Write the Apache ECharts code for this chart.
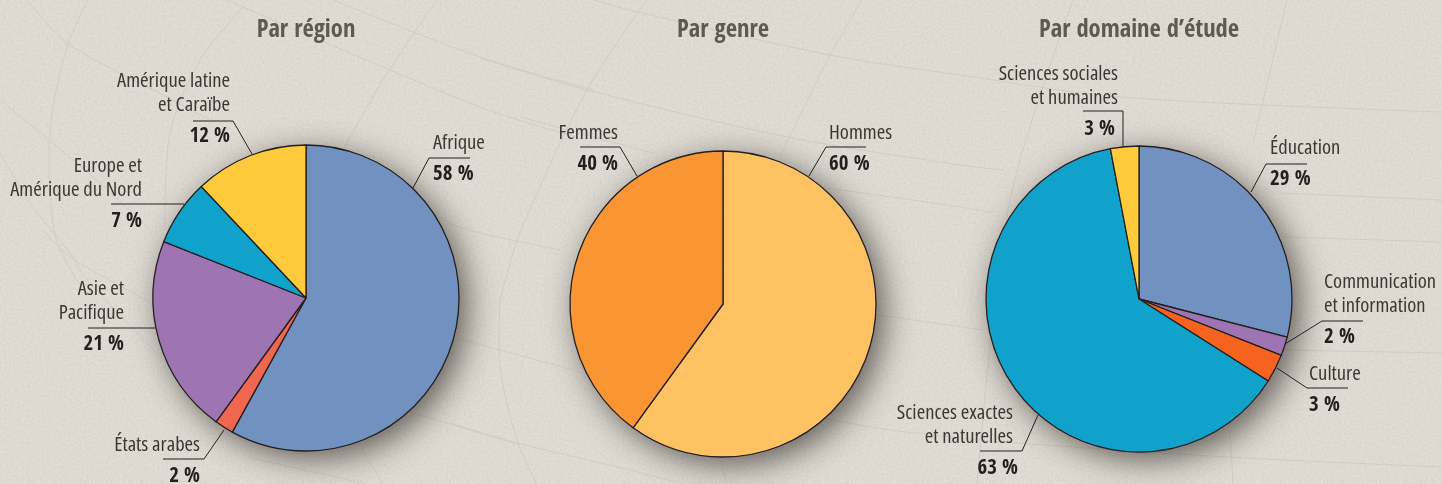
<!DOCTYPE html>
<html>
<head>
<meta charset="utf-8">
<style>
html,body{margin:0;padding:0;background-color:#e1ddd6;overflow:hidden}
#paper{position:absolute;left:0;top:0;width:1442px;height:484px;
background-image:url("data:image/svg+xml,%3Csvg xmlns='http://www.w3.org/2000/svg' width='1442' height='484'%3E%3Cfilter id='n'%3E%3CfeTurbulence type='fractalNoise' baseFrequency='0.45' numOctaves='2' seed='4'/%3E%3CfeColorMatrix values='0 0 0 0 0.5 0 0 0 0 0.47 0 0 0 0 0.4 0.5 0 0 0 -0.17'/%3E%3C/filter%3E%3Crect width='1442' height='484' filter='url(%23n)'/%3E%3C/svg%3E")}
#main{position:absolute;left:0;top:0;width:1442px;height:484px}
</style>
</head>
<body>
<div id="paper"></div>
<div id="main"></div>
<script src="https://cdn.jsdelivr.net/npm/echarts@6/dist/echarts.min.js"></script>
<script>
var titles = ['Par région', 'Par genre', 'Par domaine d’étude'];

var regionNames = ['Afrique', 'États arabes', 'Asie et\nPacifique', 'Europe et\nAmérique du Nord', 'Amérique latine\net Caraïbe'];
var regionValues = [58, 2, 21, 7, 12];
var regionColors = ['#7192c1', '#f1664f', '#9f74b3', '#10a2cb', '#ffcb3c'];

var genreNames = ['Hommes', 'Femmes'];
var genreValues = [60, 40];
var genreColors = ['#fec263', '#f99533'];

var fieldNames = ['Éducation', 'Communication\net information', 'Culture', 'Sciences exactes\net naturelles', 'Sciences sociales\net humaines'];
var fieldValues = [29, 2, 3, 63, 3];
var fieldColors = ['#7192c1', '#9f74b3', '#f5631f', '#10a2cb', '#ffcb3c'];

// label box and leader line for each slice
var regionLabels = [
    {x: 433, y: 131, align: 'left', labelLinePoints: [[413, 188], [429, 158], [470, 158]]},
    {x: 200, y: 433, align: 'right', labelLinePoints: [[224, 430], [204, 459], [163, 459]]},
    {x: 124, y: 277, align: 'right', labelLinePoints: [[155, 328], [122, 328], [88, 328]]},
    {x: 142, y: 154, align: 'right', labelLinePoints: [[184, 204], [150, 204], [111, 204]]},
    {x: 230, y: 69, align: 'right', labelLinePoints: [[252, 154], [233, 121], [193, 121]]}
];
var genreLabels = [
    {x: 829, y: 121, align: 'left', labelLinePoints: [[809, 176], [826, 147], [866, 147]]},
    {x: 618, y: 121, align: 'right', labelLinePoints: [[637, 176], [620, 147], [580, 147]]}
];
var fieldLabels = [
    {x: 1270, y: 136, align: 'left', labelLinePoints: [[1251, 192], [1266, 164], [1307, 164]]},
    {x: 1324, y: 270, align: 'left', labelLinePoints: [[1285, 344], [1322, 321], [1363, 321]]},
    {x: 1309, y: 362, align: 'left', labelLinePoints: [[1277, 368], [1307, 388], [1348, 388]]},
    {x: 1018, y: 401, align: 'right', nameTag: 'n5', labelLinePoints: [[1038, 415], [1022, 451], [980, 451]]},
    {x: 1118, y: 62, align: 'right', pctTag: 'p3', labelLinePoints: [[1123, 146], [1123, 111], [1083, 111]]}
];

var NAME_FONT = {fontStyle: 'condensed', fontFamily: '"Open Sans"', fontSize: 20.6, lineHeight: 24, color: '#3b3733'};
var PCT_FONT = {fontFamily: '"Open Sans Condensed"', fontWeight: 'bold', fontSize: 21, lineHeight: 40, color: '#231f20'};

function backing(center) {
    return {
        type: 'pie', center: center, radius: 153, silent: true, z: 1,
        label: {show: false}, labelLine: {show: false},
        itemStyle: {color: '#777', shadowBlur: 32, shadowOffsetX: 8, shadowOffsetY: 8, shadowColor: 'rgba(20,15,10,0.62)'},
        data: [{value: 1, name: ''}]
    };
}

function slices(center, names, values, colors, labels) {
    return {
        type: 'pie', center: center, radius: 153, z: 2,
        startAngle: 90, clockwise: true, avoidLabelOverlap: false,
        itemStyle: {borderColor: '#231f20', borderWidth: 1.3},
        labelLine: {show: true, lineStyle: {color: '#231f20', width: 1}},
        label: {
            show: true, position: 'outside',
            formatter: function (p) {
                var l = labels[p.dataIndex];
                return '{' + (l.nameTag || 'n') + '|' + p.name + '}\n{' + (l.pctTag || 'p') + '|' + p.value + ' %}';
            },
            rich: {
                n: NAME_FONT,
                p: PCT_FONT,
                n5: Object.assign({padding: [0, 5, 0, 0]}, NAME_FONT),
                p3: Object.assign({padding: [0, 3, 0, 0]}, PCT_FONT)
            }
        },
        labelLayout: function (p) {
            var l = labels[p.dataIndex];
            return {x: l.x, y: l.y, align: l.align, verticalAlign: 'top', labelLinePoints: l.labelLinePoints};
        },
        color: colors,
        data: names.map(function (n, i) { return {name: n, value: values[i]}; })
    };
}

function mapLine(points) {
    return {type: 'polyline', silent: true, z: -10, shape: {points: points, smooth: 0.3},
        style: {stroke: '#d0ccc5', lineWidth: 1, fill: null}};
}

var chart = echarts.init(document.getElementById('main'));
chart.setOption({
    animation: false,
    backgroundColor: 'transparent',
    title: titles.map(function (t, i) {
        return {text: t, left: [301, 718, 1134][i], top: 13, textAlign: 'center',
            textStyle: {fontFamily: '"Open Sans Condensed"', fontSize: 24.5, fontWeight: 'bold', color: '#5e5a52'}};
    }),
    // faint map graticule behind the pies
    graphic: {elements: [
        mapLine([[88, 0], [67, 47], [50, 133], [55, 235], [80, 285]]),
        mapLine([[27, 0], [67, 43], [167, 97], [210, 120]]),
        mapLine([[243, 7], [200, 60], [170, 133], [165, 227]]),
        mapLine([[0, 153], [33, 207], [70, 253], [87, 280], [157, 353]]),
        mapLine([[0, 100], [100, 183], [150, 230]]),
        mapLine([[43, 230], [70, 257], [150, 302]]),
        mapLine([[333, 0], [480, 57], [593, 90]]),
        mapLine([[227, 0], [480, 107], [587, 140]]),
        mapLine([[437, 0], [383, 80], [343, 150]]),
        mapLine([[447, 223], [480, 233], [560, 250]]),
        mapLine([[457, 338], [500, 350], [573, 370]]),
        mapLine([[403, 410], [480, 433], [520, 445]]),
        mapLine([[247, 457], [367, 484]]),
        mapLine([[362, 450], [383, 484]]),
        mapLine([[500, 300], [500, 367], [517, 440], [537, 484]]),
        mapLine([[450, 423], [517, 443], [630, 470], [683, 484]]),
        mapLine([[593, 0], [637, 12], [830, 55], [960, 75], [1120, 97], [1442, 112]]),
        mapLine([[480, 58], [587, 90], [787, 137], [960, 165], [1003, 170]]),
        mapLine([[520, 117], [653, 153]]),
        mapLine([[647, 0], [587, 90], [520, 233], [500, 300]]),
        mapLine([[862, 0], [830, 55], [780, 157]]),
        mapLine([[820, 187], [960, 207], [993, 213]]),
        mapLine([[863, 313], [963, 327], [983, 330]]),
        mapLine([[817, 417], [877, 428], [960, 438], [1017, 443], [1227, 457], [1442, 467]]),
        mapLine([[720, 460], [727, 484]]),
        mapLine([[1073, 0], [1010, 200], [977, 484]]),
        mapLine([[1287, 0], [1253, 143]]),
        mapLine([[1280, 193], [1442, 200]]),
        mapLine([[1283, 237], [1442, 242]]),
        mapLine([[1283, 350], [1442, 353]]),
        mapLine([[1230, 430], [1233, 484]])
    ]},
    series: [
        backing([306, 298]), slices([306, 298], regionNames, regionValues, regionColors, regionLabels),
        backing([723, 304]), slices([723, 304], genreNames, genreValues, genreColors, genreLabels),
        backing([1139, 299]), slices([1139, 299], fieldNames, fieldValues, fieldColors, fieldLabels)
    ]
});
</script>
</body>
</html>
